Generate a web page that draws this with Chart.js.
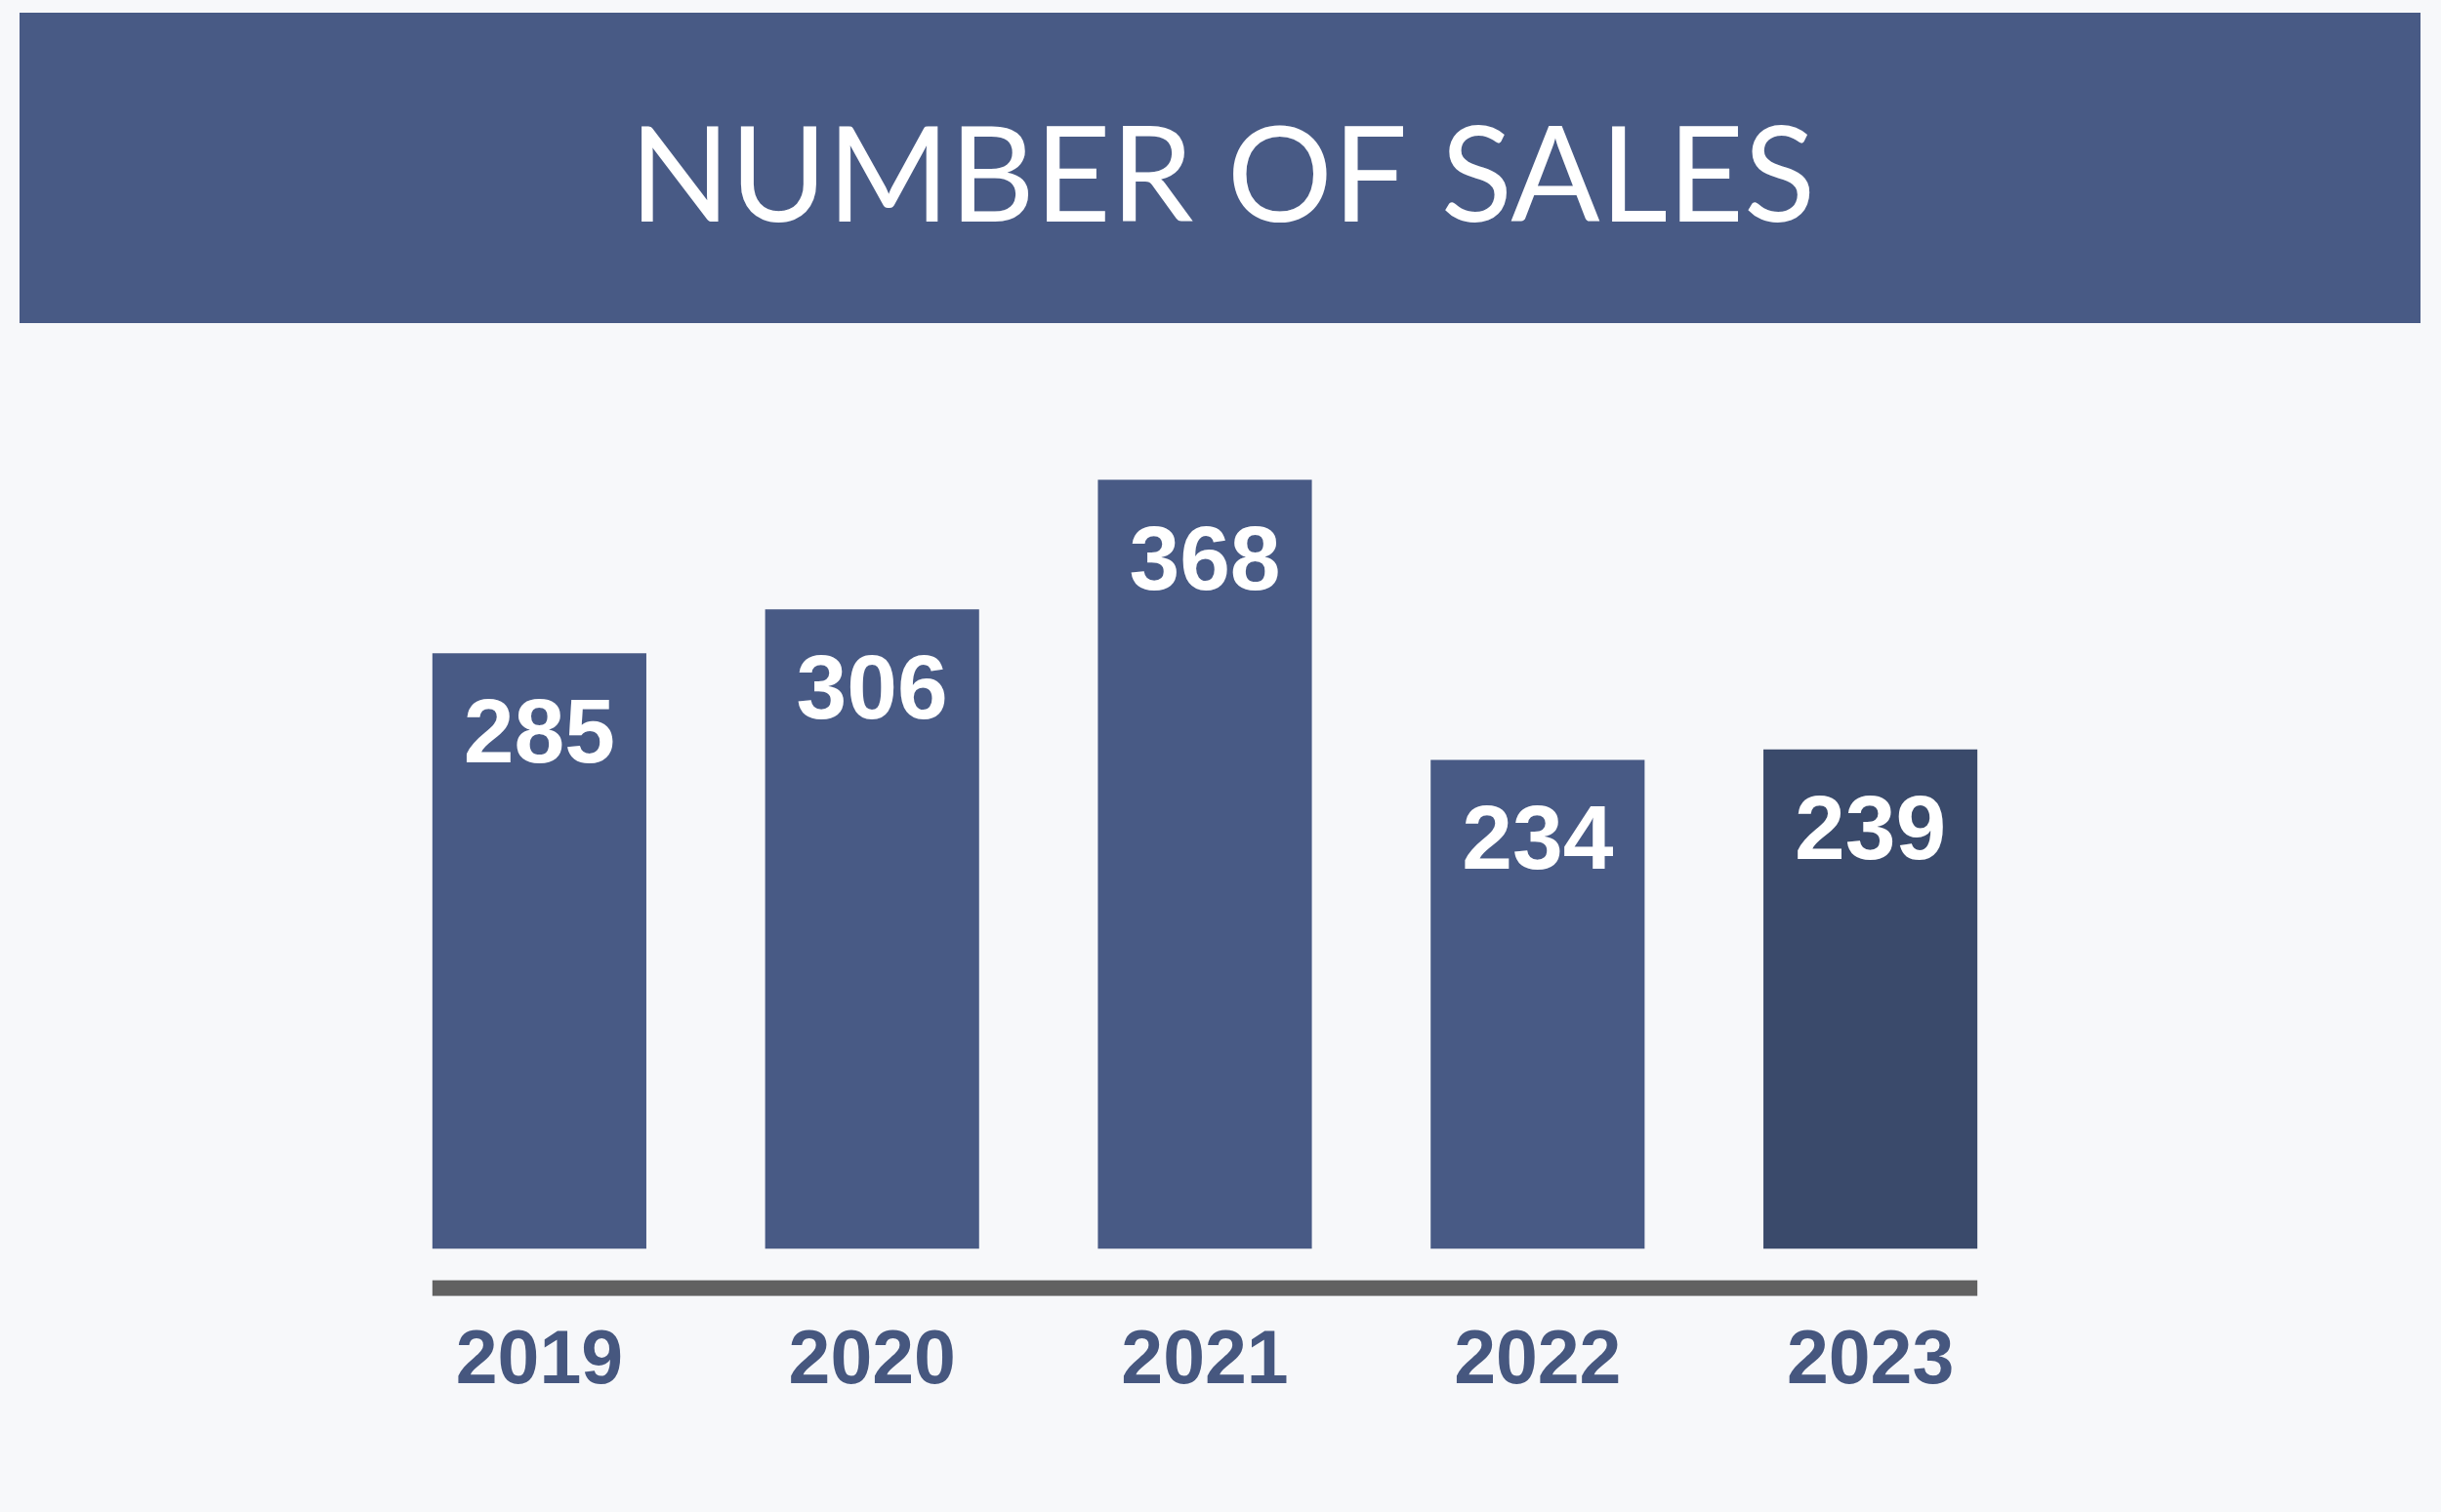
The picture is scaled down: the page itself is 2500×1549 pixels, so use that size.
<!DOCTYPE html>
<html>
<head>
<meta charset="utf-8">
<script src="https://cdn.jsdelivr.net/npm/chart.js@4.4.1/dist/chart.umd.min.js"></script>
<style>
  html, body { margin: 0; padding: 0; background: #f7f8fa; }
  #wrap { position: relative; width: 2500px; height: 1549px; }
</style>
</head>
<body>
<div id="wrap"><canvas id="chart" width="2500" height="1549"></canvas></div>
<script>
const TITLE = 'NUMBER OF SALES';
const years = ['2019', '2020', '2021', '2022', '2023'];
const sales = [285, 306, 368, 234, 239];
const barColors = ['#485a85', '#485a85', '#485a85', '#485a85', '#3a4a6b'];

const BANNER = '#485a85';
const BG = '#f7f8fa';

// banner behind the title
const bannerPlugin = {
  id: 'banner',
  beforeDraw(chart) {
    const ctx = chart.ctx;
    ctx.save();
    ctx.fillStyle = BG;
    ctx.fillRect(0, 0, chart.width, chart.height);
    ctx.fillStyle = BANNER;
    ctx.fillRect(20, 13, 2459, 318);
    ctx.restore();
  }
};

// thick grey base line under the bars + white numbers inside bars
const barExtras = {
  id: 'barExtras',
  afterDatasetsDraw(chart) {
    const ctx = chart.ctx;
    const bars = chart.getDatasetMeta(0).data;
    const first = bars[0], last = bars[bars.length - 1];
    const x0 = first.x - first.width / 2;
    const x1 = last.x + last.width / 2;
    const base = chart.chartArea.bottom;
    ctx.save();
    ctx.fillStyle = '#616161';
    ctx.fillRect(x0, base + 32, x1 - x0, 16);

    ctx.fillStyle = '#ffffff';
    ctx.font = 'bold 93px "Liberation Sans", Arial, sans-serif';
    ctx.textAlign = 'center';
    ctx.textBaseline = 'alphabetic';
    bars.forEach((b, i) => {
      ctx.fillText(String(sales[i]), b.x, b.y + 112);
    });
    ctx.restore();
  }
};

new Chart(document.getElementById('chart'), {
  type: 'bar',
  data: {
    labels: years,
    datasets: [{
      data: sales,
      backgroundColor: barColors,
      borderWidth: 0,
      barPercentage: 0.643,
      categoryPercentage: 1
    }]
  },
  plugins: [bannerPlugin, barExtras],
  options: {
    responsive: false,
    animation: false,
    devicePixelRatio: 1,
    layout: { padding: { left: 382, right: 378, top: 0, bottom: 37 } },
    plugins: {
      legend: { display: false },
      tooltip: { enabled: false },
      title: {
        display: true,
        text: TITLE,
        color: '#ffffff',
        font: { family: 'Lato, "Open Sans", sans-serif', size: 135, weight: 'normal', lineHeight: 1 },
        padding: { top: 116, bottom: 172 }
      }
    },
    scales: {
      x: {
        offset: true,
        border: { display: false },
        grid: { display: false, drawTicks: false },
        ticks: {
          color: '#46577f',
          padding: 70,
          font: { family: '"Liberation Sans", Arial, sans-serif', size: 77, weight: 'bold', lineHeight: 1.2 }
        }
      },
      y: {
        position: 'right',
        min: 0,
        max: 400,
        border: { display: false },
        grid: { display: false, drawTicks: false },
        ticks: { display: false },
        // empty strip on the right so the title stays centred on the page
        afterFit(scale) { scale.width = 36; }
      }
    }
  }
});
</script>
</body>
</html>
